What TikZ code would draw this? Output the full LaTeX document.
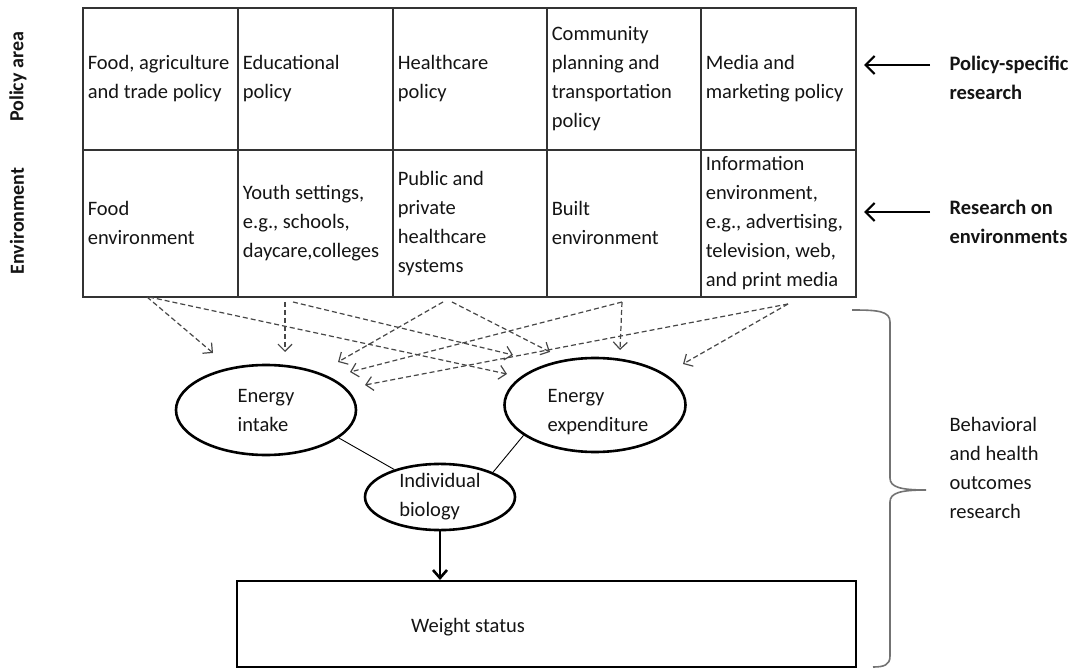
\documentclass[tikz,border=0pt]{standalone}
\usepackage{fontspec}
\setmainfont{Carlito}
\usetikzlibrary{shapes.geometric,arrows.meta}
\begin{document}
\begin{tikzpicture}[x=1pt,y=-1pt,
  every node/.style={font=\fontsize{20.5}{29}\selectfont, text=black!92},
  cell/.style={draw=black!80, line width=1.6pt, rectangle, inner xsep=5pt, inner ysep=0pt,
    align=flush left, anchor=north west},
  oval/.style={draw=black, line width=2.6pt, ellipse, inner sep=0pt, align=flush left},
  ovaltext/.style={align=flush left},
  dasharrow/.style={draw=black!72, line width=1.2pt, dash pattern=on 5pt off 3pt,
    -{Straight Barb[length=7pt,width=14pt]}},
  sidearrow/.style={draw=black, line width=2.2pt, -{Straight Barb[length=9pt,width=18pt]}},
  sidelabel/.style={anchor=west, align=flush left, font=\fontsize{20.5}{29}\selectfont\bfseries},
  rowlabel/.style={rotate=90, font=\fontsize{20}{22}\selectfont\bfseries},
  thinline/.style={draw=black, line width=0.9pt},
]
\useasboundingbox (0,0) rectangle (1074,668);

% row titles
\node[rowlabel] (lpol) at (18,77) {Policy area};
\node[rowlabel] (lenv) at (17,221) {Environment};

% policy row
\node[cell, text width=145pt, minimum height=142pt] (p1) at (82,7) {Food, agriculture\\and trade policy};
\node[cell, text width=145pt, minimum height=142pt] (p2) at (237,7) {Educational\\policy};
\node[cell, text width=144pt, minimum height=142pt] (p3) at (392,7) {Healthcare\\policy};
\node[cell, text width=144pt, minimum height=142pt] (p4) at (546,7) {Community\\planning and\\transportation\\policy};
\node[cell, text width=145pt, minimum height=142pt] (p5) at (700,7) {Media and\\marketing policy};

% environment row
\node[cell, text width=145pt, minimum height=147pt] (e1) at (82,149) {Food\\environment};
\node[cell, text width=145pt, minimum height=147pt] (e2) at (237,149) {Youth settings,\\e.g., schools,\\daycare,colleges};
\node[cell, text width=144pt, minimum height=147pt] (e3) at (392,149) {Public and\\private\\healthcare\\systems};
\node[cell, text width=144pt, minimum height=147pt] (e4) at (546,149) {Built\\environment};
\node[cell, text width=145pt, minimum height=147pt] (e5) at (700,149) {Information\\environment,\\e.g., advertising,\\television, web,\\and print media};

% research labels on the right
\node[sidelabel] (lab1) at (946,78) {Policy-specific\\research};
\node[sidelabel] (lab2) at (946,222) {Research on\\environments};
\coordinate (r1a) at (930,65);
\coordinate (r1b) at (864,65);
\coordinate (r2a) at (930,212);
\coordinate (r2b) at (864,212);
\draw[sidearrow] (r1a) -- (r1b);
\draw[sidearrow] (r2a) -- (r2b);

% outcome ellipses
\node[oval, minimum width=180pt, minimum height=90pt] (intake) at (266,410) {Energy\\intake};
\node[oval, minimum width=181pt, minimum height=94pt] (expend) at (595,405) {};
\node[ovaltext] (expendtext) at (598,412) {Energy\\expenditure};
\node[oval, minimum width=150pt, minimum height=66pt] (bio) at (440,497) {Individual\\biology};

\draw[thinline] (intake.-21) -- (bio.149);
\draw[thinline] (expend.203) -- (bio.25);

% weight status box
\node[draw=black, line width=2.4pt, minimum width=619pt, minimum height=86pt, anchor=north west] (weight) at (236,580) {};
\node (wtext) at (468,627) {Weight status};
\draw[draw=black, line width=2.6pt, -{Straight Barb[length=8pt,width=14pt]}] (bio.south) -- (bio.south |- weight.north);

% start points of the environment links
\coordinate (sFoodA) at (147,297);
\coordinate (sFoodB) at (149,297);
\coordinate (sEduA) at (285,302);
\coordinate (sEduB) at (293,302);
\coordinate (sHltA) at (443,302);
\coordinate (sHltB) at (452,302);
\coordinate (sBltA) at (622,302);
\coordinate (sBltB) at (622,302);
\coordinate (sInfA) at (788,304);
\coordinate (sInfB) at (788,304);
% end points near the ellipses
\coordinate (tI1) at (213,353);
\coordinate (tI2) at (285,352);
\coordinate (tI3) at (338,362);
\coordinate (tI4) at (350,372);
\coordinate (tI5) at (365,385);
\coordinate (tX1) at (507,374);
\coordinate (tX2) at (513,355);
\coordinate (tX3) at (550,352);
\coordinate (tX4) at (620,350);
\coordinate (tX5) at (683,364);

\draw[dasharrow] (sFoodA) -- (tI1);
\draw[dasharrow] (sFoodB) -- (tX1);
\draw[dasharrow] (sEduA) -- (tI2);
\draw[dasharrow] (sEduB) -- (tX2);
\draw[dasharrow] (sHltA) -- (tI3);
\draw[dasharrow] (sHltB) -- (tX3);
\draw[dasharrow] (sBltA) -- (tX4);
\draw[dasharrow] (sBltB) -- (tI4);
\draw[dasharrow] (sInfA) -- (tI5);
\draw[dasharrow] (sInfB) -- (tX5);

% brace spanning the outcome part
\draw[draw=black!55, line width=1.6pt]
  (852,310) .. controls (878,310) and (890,311) .. (890,322) -- (890,478)
  .. controls (890,487) and (900,490) .. (926,490)
  .. controls (900,490) and (890,493) .. (890,502) -- (890,656)
  .. controls (890,665) and (884,667) .. (873,667);
\node[anchor=west, align=flush left] (lab3) at (946,468) {Behavioral\\and health\\outcomes\\research};
\end{tikzpicture}
\end{document}
